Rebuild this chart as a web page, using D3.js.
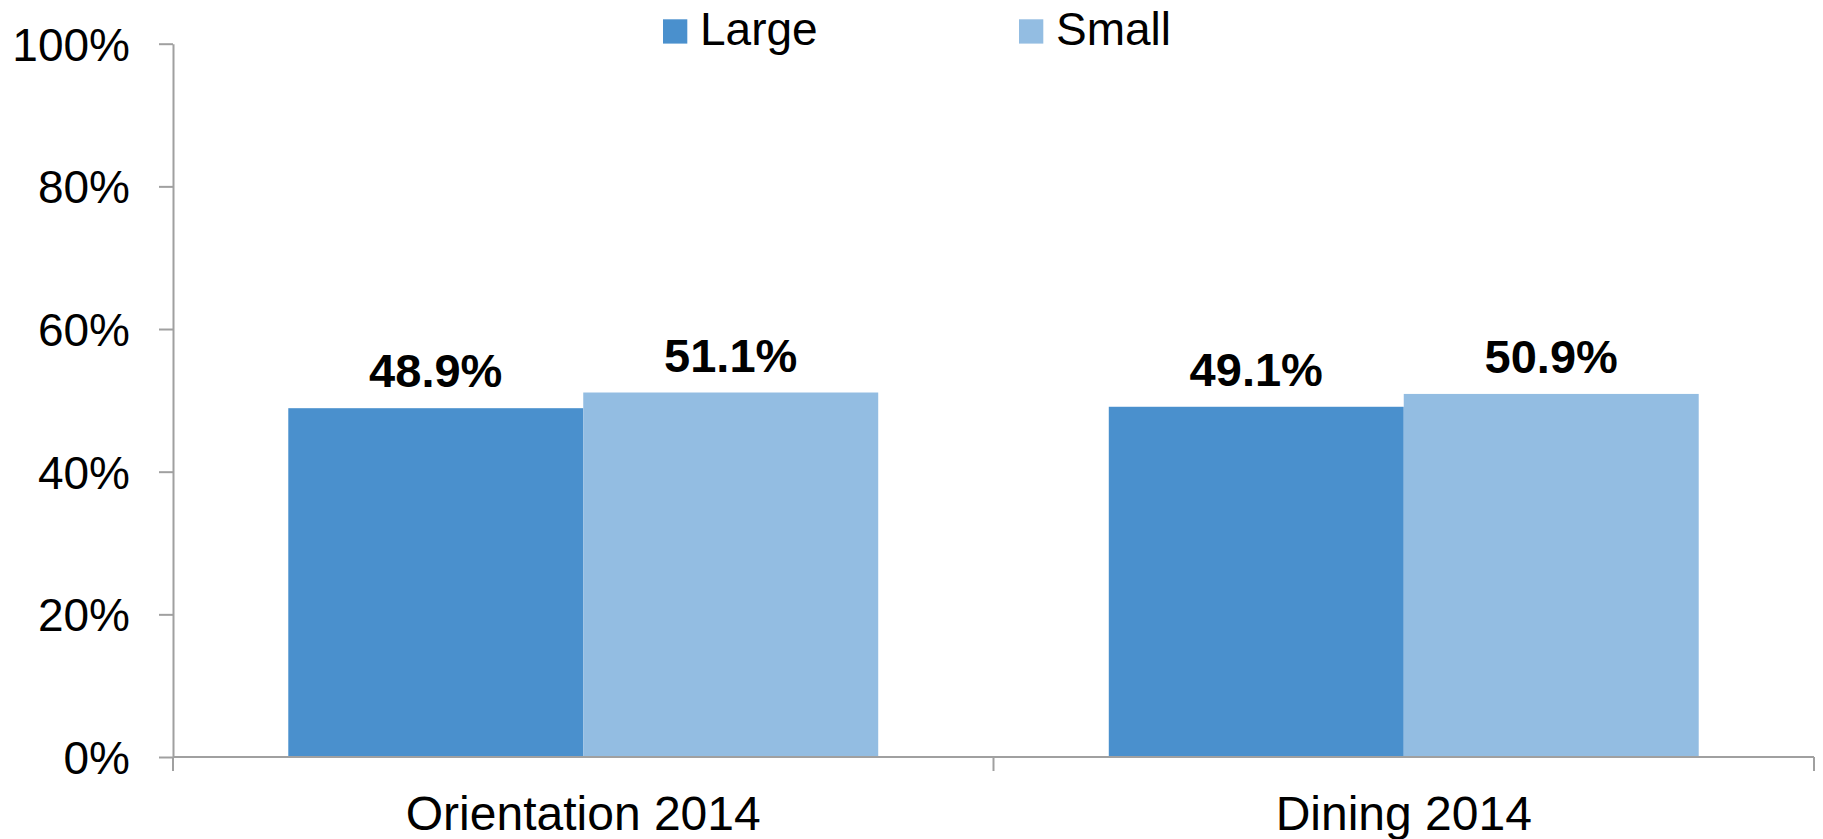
<!DOCTYPE html>
<html>
<head>
<meta charset="utf-8">
<script src="https://cdn.jsdelivr.net/npm/d3@7"></script>
<style>
  html, body { margin: 0; padding: 0; background: #fff; }
  svg { display: block; font-family: "Liberation Sans", Arial, sans-serif; }
</style>
</head>
<body>
<svg width="1823" height="839"></svg>
<script>
// chart data
const categories = ['Orientation 2014', 'Dining 2014'];
const seriesNames = ['Large', 'Small'];
const largeValues = [0.489, 0.491];
const smallValues = [0.511, 0.509];
const yTicks = [0, 0.2, 0.4, 0.6, 0.8, 1.0];

const colors = { 'Large': '#4a90cd', 'Small': '#93bde2' };
const AXIS_COLOR = '#a0a0a0';

const plotLeft = 173, plotRight = 1814, plotTop = 43.7, plotBottom = 757;

const svg = d3.select('svg');

const rows = categories.map((c, i) => ({
  cat: c,
  vals: [
    { key: 'Large', value: largeValues[i] },
    { key: 'Small', value: smallValues[i] }
  ]
}));

const x0 = d3.scaleBand()
  .domain(categories)
  .range([plotLeft, plotRight])
  .paddingInner(0.281)
  .paddingOuter(0.1405);

const x1 = d3.scaleBand()
  .domain(seriesNames)
  .range([0, x0.bandwidth()]);

const y = d3.scaleLinear()
  .domain([0, 1])
  .range([plotBottom, plotTop]);

// y axis
const yAxis = svg.append('g')
  .attr('transform', 'translate(' + plotLeft + ',0)')
  .call(d3.axisLeft(y)
    .tickValues(yTicks)
    .tickFormat(d3.format('.0%'))
    .tickSize(14)
    .tickSizeOuter(0)
    .tickPadding(29));
yAxis.select('.domain').attr('stroke', AXIS_COLOR).attr('stroke-width', 2);
yAxis.selectAll('.tick line').attr('stroke', AXIS_COLOR).attr('stroke-width', 2);
yAxis.selectAll('.tick text')
  .attr('font-size', 46)
  .attr('dy', '0.36em')
  .attr('fill', '#000')
  .attr('font-family', '"Liberation Sans", Arial, sans-serif');

// bars
const groups = svg.selectAll('.group')
  .data(rows)
  .enter()
  .append('g')
  .attr('class', 'group')
  .attr('transform', d => 'translate(' + x0(d.cat) + ',0)');

groups.selectAll('rect')
  .data(d => d.vals)
  .enter()
  .append('rect')
  .attr('x', d => x1(d.key))
  .attr('y', d => y(d.value))
  .attr('width', x1.bandwidth())
  .attr('height', d => plotBottom - y(d.value))
  .attr('fill', d => colors[d.key]);

groups.selectAll('.label')
  .data(d => d.vals)
  .enter()
  .append('text')
  .attr('class', 'label')
  .attr('x', d => x1(d.key) + x1.bandwidth() / 2)
  .attr('y', d => y(d.value) - 21)
  .attr('text-anchor', 'middle')
  .attr('font-size', 47)
  .attr('font-weight', 'bold')
  .attr('fill', '#000')
  .text(d => (d.value * 100).toFixed(1) + '%');

// x axis: line plus ticks at category boundaries
const step = x0.step();
const boundaries = [plotLeft].concat(categories.map(c => x0(c) - x0.paddingOuter() * step + step));

svg.append('line')
  .attr('x1', plotLeft)
  .attr('x2', plotRight)
  .attr('y1', plotBottom)
  .attr('y2', plotBottom)
  .attr('stroke', AXIS_COLOR)
  .attr('stroke-width', 2);

svg.selectAll('.xtick')
  .data(boundaries)
  .enter()
  .append('line')
  .attr('class', 'xtick')
  .attr('x1', d => d)
  .attr('x2', d => d)
  .attr('y1', plotBottom)
  .attr('y2', plotBottom + 14)
  .attr('stroke', AXIS_COLOR)
  .attr('stroke-width', 2);

svg.selectAll('.xlabel')
  .data(categories)
  .enter()
  .append('text')
  .attr('class', 'xlabel')
  .attr('x', d => x0(d) + x0.bandwidth() / 2)
  .attr('y', 830)
  .attr('text-anchor', 'middle')
  .attr('font-size', 48)
  .attr('fill', '#000')
  .text(d => d);

// legend
const legendX = [663, 1019];
const legend = svg.selectAll('.legend')
  .data(seriesNames)
  .enter()
  .append('g')
  .attr('class', 'legend')
  .attr('transform', (d, i) => 'translate(' + legendX[i] + ',0)');

legend.append('rect')
  .attr('x', 0)
  .attr('y', 19.3)
  .attr('width', 24.3)
  .attr('height', 24.3)
  .attr('fill', d => colors[d]);

legend.append('text')
  .attr('x', 37)
  .attr('y', 45.3)
  .attr('font-size', 46)
  .attr('fill', '#000')
  .text(d => d);
</script>
</body>
</html>
